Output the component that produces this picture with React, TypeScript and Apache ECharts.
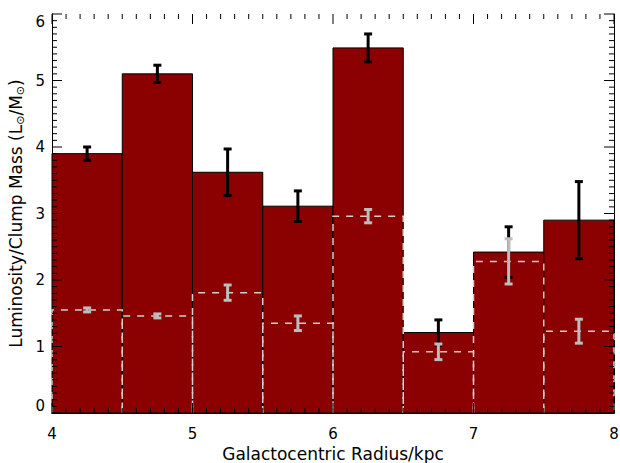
import React, { useEffect, useRef } from "react";
import * as echarts from "echarts";

const binEdges = [4, 4.5, 5, 5.5, 6, 6.5, 7, 7.5, 8];
const lumPerMass = [3.9, 5.1, 3.62, 3.11, 5.49, 1.21, 2.42, 2.9];
const lumErr = [0.1, 0.13, 0.35, 0.23, 0.21, 0.19, 0.38, 0.58];
const altValues = [1.55, 1.46, 1.81, 1.35, 2.96, 0.92, 2.28, 1.23];
const altErr = [0.03, 0.03, 0.115, 0.11, 0.1, 0.117, 0.34, 0.18];
const xTicks = [4, 5, 6, 7, 8];
const yTicks = [0, 1, 2, 3, 4, 5, 6];
const minorPerMajor = 10;

const FONT = "DejaVu Sans";

export default function App() {
  const ref = useRef<HTMLDivElement>(null);
  useEffect(() => {
    if (!ref.current) return;
    const chart = echarts.init(ref.current, null, { renderer: "svg" });

    const xMin = xTicks[0];
    const xMax = xTicks[xTicks.length - 1];
    const yMin = yTicks[0];
    const yMax = yTicks[yTicks.length - 1];

    const binData = lumPerMass.map((v, i) => [binEdges[i], binEdges[i + 1], v]);
    const altData = altValues.map((v, i) => [binEdges[i], binEdges[i + 1], v]);
    const errData = lumPerMass.map((v, i) => [(binEdges[i] + binEdges[i + 1]) / 2, v, lumErr[i]]);
    const altErrData = altValues.map((v, i) => [(binEdges[i] + binEdges[i + 1]) / 2, v, altErr[i]]);

    const expand = (ticks: number[]) => {
      const out: number[][] = [];
      for (let i = 0; i < ticks.length; i++) {
        out.push([ticks[i], 10]);
        if (i < ticks.length - 1) {
          const step = (ticks[i + 1] - ticks[i]) / minorPerMajor;
          for (let k = 1; k < minorPerMajor; k++) out.push([ticks[i] + k * step, 5]);
        }
      }
      return out;
    };
    const xTickList = expand(xTicks);
    const yTickList = expand(yTicks);

    const errRender = (color: string) => (params: any, api: any) => {
      const x = api.value(0);
      const v = api.value(1);
      const e = api.value(2);
      const top = api.coord([x, v + e]);
      const bot = api.coord([x, v - e]);
      const cap = 4;
      const st = { stroke: color, lineWidth: 3 };
      return {
        type: "group",
        children: [
          { type: "line", shape: { x1: top[0], y1: top[1], x2: bot[0], y2: bot[1] }, style: st },
          { type: "line", shape: { x1: top[0] - cap, y1: top[1], x2: top[0] + cap, y2: top[1] }, style: st },
          { type: "line", shape: { x1: bot[0] - cap, y1: bot[1], x2: bot[0] + cap, y2: bot[1] }, style: st },
        ],
      };
    };

    const tickRender = (params: any, api: any) => {
      const children: any[] = [];
      const st = { stroke: "#000", lineWidth: 1 };
      xTickList.forEach(([v, len]) => {
        const b = api.coord([v, yMin]);
        const t = api.coord([v, yMax]);
        children.push({ type: "line", shape: { x1: b[0], y1: b[1], x2: b[0], y2: b[1] - len }, style: st });
        children.push({ type: "line", shape: { x1: t[0], y1: t[1], x2: t[0], y2: t[1] + len }, style: st });
      });
      yTickList.forEach(([v, len]) => {
        const l = api.coord([xMin, v]);
        const r = api.coord([xMax, v]);
        children.push({ type: "line", shape: { x1: l[0], y1: l[1], x2: l[0] + len, y2: l[1] }, style: st });
        children.push({ type: "line", shape: { x1: r[0], y1: r[1], x2: r[0] - len, y2: r[1] }, style: st });
      });
      return { type: "group", children };
    };

    const xBase = {
      type: "value",
      min: xMin,
      max: xMax,
      interval: 1,
      axisLine: { lineStyle: { color: "#000", width: 1 } },
      axisTick: { show: false },
      minorTick: { show: false },
      splitLine: { show: false },
      minorSplitLine: { show: false },
    };
    const yBase = {
      type: "value",
      min: yMin,
      max: yMax,
      interval: 1,
      axisLine: { show: true, lineStyle: { color: "#000", width: 1 } },
      axisTick: { show: false },
      minorTick: { show: false },
      splitLine: { show: false },
      minorSplitLine: { show: false },
    };

    chart.setOption({
      animation: false,
      backgroundColor: "#fff",
      grid: {
        left: 52,
        right: 6,
        top: 14,
        bottom: 50,
        containLabel: false,
        outerBoundsMode: "none",
      },
      xAxis: [
        {
          ...xBase,
          position: "bottom",
          name: "Galactocentric Radius/kpc",
          nameLocation: "middle",
          nameGap: 32,
          nameMoveOverlap: false,
          nameTextStyle: { color: "#000", fontSize: 17, fontFamily: FONT },
          axisLabel: { color: "#000", fontSize: 15, fontFamily: FONT, margin: 13 },
        },
        { ...xBase, position: "top", axisLabel: { show: false } },
      ],
      yAxis: [
        {
          ...yBase,
          position: "left",
          name: "{n|Luminosity/Clump Mass (L}{s|⊙}{n|/M}{s|⊙}{n|)}",
          nameLocation: "middle",
          nameGap: 26,
          nameMoveOverlap: false,
          nameTextStyle: {
            color: "#000",
            fontFamily: FONT,
            fontSize: 17,
            rich: {
              n: { fontSize: 17, fontFamily: FONT, color: "#000" },
              s: { fontSize: 11, fontFamily: FONT, color: "#000", padding: [9, 0, 0, 0] },
            },
          },
          axisLabel: {
            color: "#000",
            fontSize: 15,
            fontFamily: FONT,
            margin: 7,
            verticalAlignMinLabel: "bottom",
            verticalAlignMaxLabel: "top",
          },
        },
        { ...yBase, position: "right", axisLabel: { show: false } },
      ],
      series: [
        {
          type: "custom",
          xAxisIndex: 0,
          yAxisIndex: 0,
          z: 1,
          data: binData,
          encode: { x: [0, 1], y: 2 },
          renderItem: (params: any, api: any) => {
            const p0 = api.coord([api.value(0), api.value(2)]);
            const p1 = api.coord([api.value(1), 0]);
            return {
              type: "rect",
              shape: { x: p0[0], y: p0[1], width: p1[0] - p0[0], height: p1[1] - p0[1] },
              style: { fill: "#8b0000", stroke: "#000", lineWidth: 1 },
            };
          },
        },
        {
          type: "custom",
          xAxisIndex: 0,
          yAxisIndex: 0,
          z: 2,
          data: altData,
          encode: { x: [0, 1], y: 2 },
          renderItem: (params: any, api: any) => {
            const x0 = api.value(0);
            const x1 = api.value(1);
            const v = api.value(2);
            const pts = [api.coord([x0, 0]), api.coord([x0, v]), api.coord([x1, v]), api.coord([x1, 0])];
            return {
              type: "polyline",
              shape: { points: pts },
              style: { stroke: "#cfcfcf", lineWidth: 1.5, lineDash: [7, 7], fill: null },
            };
          },
        },
        {
          type: "custom",
          xAxisIndex: 0,
          yAxisIndex: 0,
          z: 3,
          data: errData,
          encode: { x: 0, y: 1 },
          renderItem: errRender("#000"),
        },
        {
          type: "custom",
          xAxisIndex: 0,
          yAxisIndex: 0,
          z: 4,
          data: altErrData,
          encode: { x: 0, y: 1 },
          renderItem: errRender("#bdbdbd"),
        },
        {
          type: "custom",
          xAxisIndex: 0,
          yAxisIndex: 0,
          z: 6,
          data: [[xMin, yMin]],
          encode: { x: 0, y: 1 },
          renderItem: tickRender,
        },
      ],
    });
    return () => chart.dispose();
  }, []);
  return <div ref={ref} style={{ position: "fixed", left: 0, top: 0, width: 620, height: 463 }} />;
}
